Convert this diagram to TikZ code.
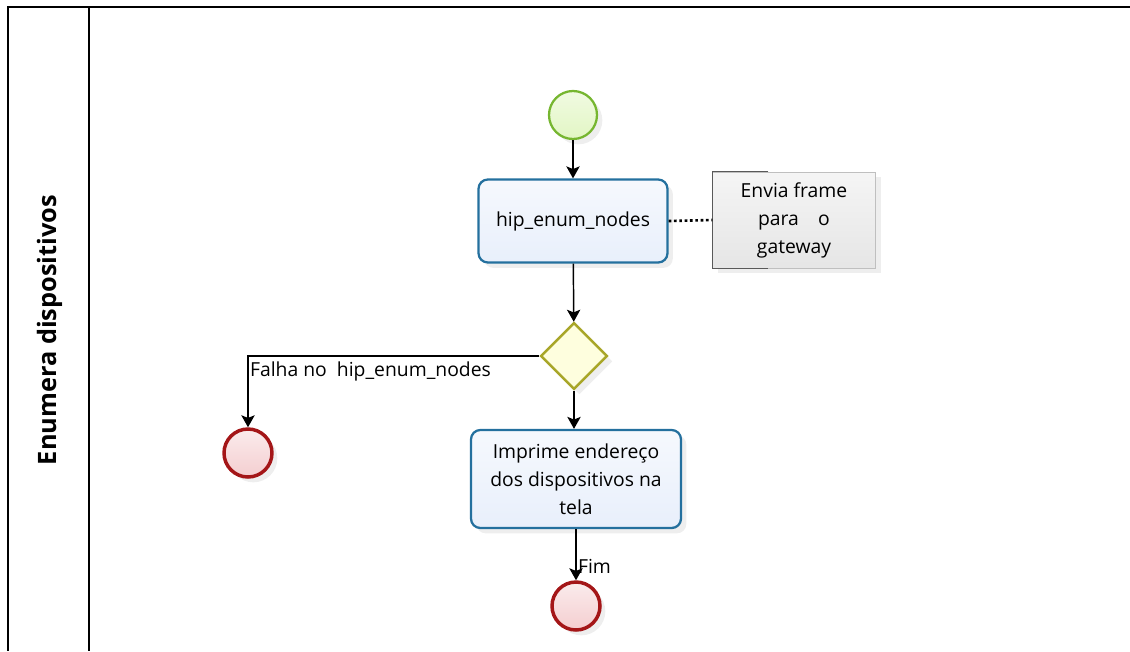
\documentclass[tikz,border=0pt]{standalone}
\usepackage{fontspec}
\setmainfont{Open Sans}
\usetikzlibrary{shapes.geometric,arrows.meta,shadows}

\definecolor{startline}{RGB}{118,182,48}
\definecolor{startfill}{RGB}{226,246,196}
\definecolor{taskline}{RGB}{36,112,158}
\definecolor{taskfill}{RGB}{232,239,251}
\definecolor{gwline}{RGB}{168,166,40}
\definecolor{gwfill}{RGB}{254,254,222}
\definecolor{endline}{RGB}{164,22,24}
\definecolor{endfill}{RGB}{244,206,208}

\begin{document}
\begin{tikzpicture}[x=0.75pt,y=-0.75pt,font=\fontsize{14.5}{21}\selectfont,
shade/.style={drop shadow={shadow xshift=4pt,shadow yshift=-4pt,fill=black!13}},
startev/.style={circle,draw=startline,line width=1.7pt,minimum size=36pt,inner sep=0pt,
    top color=startfill!50,bottom color=startfill,shade},
endev/.style={circle,draw=endline,line width=2.6pt,minimum size=36pt,inner sep=0pt,
    top color=endfill!40,bottom color=endfill,shade},
task/.style={rectangle,rounded corners=7pt,draw=taskline,line width=1.7pt,align=center,
    top color=taskfill!40,bottom color=taskfill,inner sep=2pt,shade},
gate/.style={diamond,aspect=1,draw=gwline,line width=1.8pt,minimum size=50pt,inner sep=0pt,
    fill=gwfill,shade},
note/.style={rectangle,draw=black!25,align=center,minimum width=122pt,minimum height=72pt,
    top color=black!4,bottom color=black!10,shade},
flow/.style={-{Stealth[length=9pt,width=10pt,inset=2pt]},line width=1.1pt}]
\useasboundingbox (0,0) rectangle (1130,651);
% lane
\draw[line width=1.2pt] (1130,7) -- (8,7) -- (8,651);
\draw[line width=1.2pt] (89,7) -- (89,651);
\node[rotate=90,font=\fontsize{19}{22}\selectfont\bfseries] (lane) at (50,330) {Enumera dispositivos};

\node[startev] (start) at (573,115) {};
\node[task,minimum width=141.75pt,minimum height=62.25pt] (enum) at (573,221) {hip\_enum\_nodes};
\node[note] (anno) at (794,220) {Envia frame\\para\quad o\\gateway};
\draw[line width=1pt,black!65] ([xshift=42pt]anno.north west) -- (anno.north west)
    -- (anno.south west) -- ([xshift=42pt]anno.south west);
\node[gate] (gw) at (574,356) {};
\node[endev] (fail) at (248,453) {};
\node[task,minimum width=157.5pt,minimum height=73.5pt] (print) at (576,479)
    {Imprime endereço\\dos dispositivos na\\tela};
\node[endev] (fim) at (576,606) {};

\draw[flow] (start) -- (enum);
\draw[line width=2pt,dotted] (enum.east) -- (anno.west);
\draw[flow] (enum) -- (gw);
\draw[flow] (gw.west) -| node[pos=0.5,anchor=north west,inner sep=1pt,yshift=-3pt] {Falha no\ \ hip\_enum\_nodes} (fail);
\draw[flow] (gw.south) -- (gw.south |- print.north);
\draw[flow] (print) -- node[pos=0.72,anchor=west,inner sep=1pt] {Fim} (fim);
\end{tikzpicture}
\end{document}
